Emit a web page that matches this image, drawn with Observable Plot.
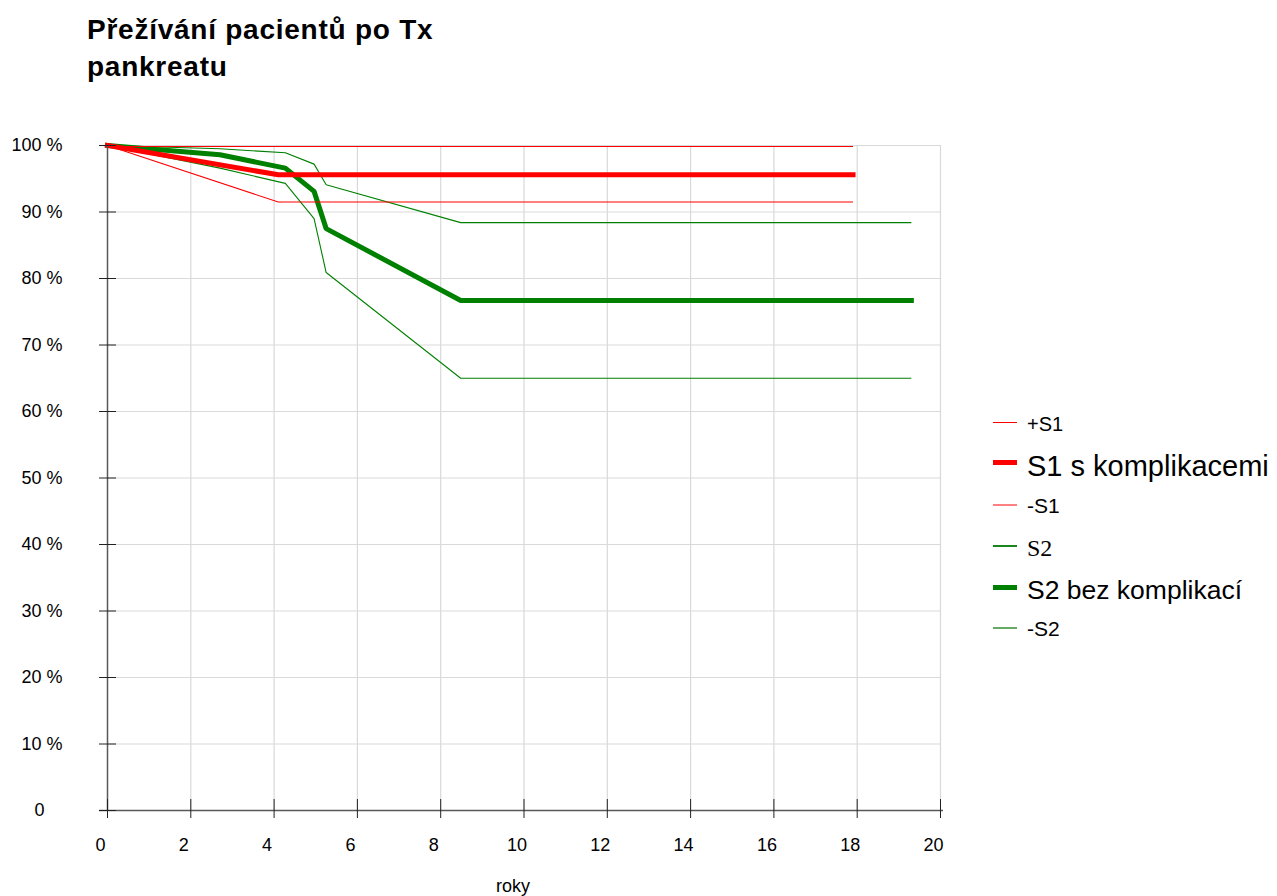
<!DOCTYPE html>
<html>
<head>
<meta charset="utf-8">
<script src="https://cdn.jsdelivr.net/npm/d3@7"></script>
<script src="https://cdn.jsdelivr.net/npm/@observablehq/plot@0.6"></script>
<style>
  body { margin: 0; background: #fff; font-family: "Liberation Sans", Arial, sans-serif; color: #000; }
  #page { position: relative; width: 1277px; height: 896px; overflow: hidden; background: #fff; }
  #title { position: absolute; left: 87px; top: 11px; font-size: 28px; letter-spacing: 0.75px; font-weight: bold; line-height: 37px; white-space: nowrap; }
  #chart { position: absolute; left: 0; top: 100px; }
  #xlabel { position: absolute; left: 496px; top: 877px; font-size: 18px; line-height: 18px; }
  .leg-line { position: absolute; }
  .leg-text { position: absolute; white-space: nowrap; }
</style>
</head>
<body>
<div id="page">
  <div id="title">Přežívání pacientů po Tx<br>pankreatu</div>
  <div id="chart"></div>
  <div id="xlabel">roky</div>
</div>
<script>
// Patient survival after pancreas transplant (years vs. %), with confidence bounds.
const s1Years = [0, 4.1, 17.9];
const s1Upper = [100, 100, 100];
const s1Mid = [100, 95.6, 95.6];
const s1Lower = [100, 91.5, 91.5];

const s2Years = [0, 2.7, 4.27, 4.96, 5.25, 8.48, 19.3];
const s2Upper = [100, 99.5, 98.9, 97.2, 94.1, 88.4, 88.4];
const s2Mid = [100, 98.6, 96.6, 93.1, 87.5, 76.7, 76.7];
const s2Lower = [100, 96.6, 94.3, 89.0, 80.9, 65.0, 65.0];

const xTicks = [0, 2, 4, 6, 8, 10, 12, 14, 16, 18, 20];
const yTicks = [0, 10, 20, 30, 40, 50, 60, 70, 80, 90, 100];

const seriesNames = ["+S1", "S1 s komplikacemi", "-S1", "S2", "S2 bez komplikací", "-S2"];

const RED = "#ff0000";
const GREEN = "#008000";

const rows = (years, values) => years.map((t, i) => ({t, v: values[i]}));

const thin = (years, values, stroke, extra = {}) =>
  Plot.line(rows(years, values), {x: "t", y: "v", stroke, strokeWidth: 1.1, strokeLinejoin: "miter", strokeLinecap: "butt", ...extra});
const thick = (years, values, stroke) =>
  Plot.line(rows(years, values), {x: "t", y: "v", stroke, strokeWidth: 5, strokeLinejoin: "miter", strokeLinecap: "square"});

const chart = Plot.plot({
  width: 960,
  height: 760,
  marginLeft: 107,
  marginRight: 20,
  marginTop: 45,
  marginBottom: 50,
  x: {domain: [0, 20]},
  y: {domain: [0, 100]},
  style: {fontFamily: '"Liberation Sans", Arial, sans-serif', fontSize: "18px", color: "#000", background: "transparent", overflow: "visible"},
  marks: [
    // grid
    Plot.ruleX(xTicks.filter(d => d > 0), {stroke: "#d9d9d9", strokeWidth: 1.2}),
    Plot.ruleY(yTicks.filter(d => d > 0), {stroke: "#d9d9d9", strokeWidth: 1.2}),
    // S2 group (drawn under S1)
    thin(s2Years, s2Upper, GREEN),
    thin(s2Years, s2Lower, GREEN),
    thick(s2Years, s2Mid, GREEN),
    // S1 group; the upper bound sits just below the 100 % grid line
    thin(s1Years, s1Upper, RED, {dy: 1}),
    thin(s1Years, s1Lower, RED),
    thick(s1Years, s1Mid, RED),
    // axis lines
    Plot.ruleY([0], {stroke: "#595959", strokeWidth: 1.5, insetLeft: -8, insetRight: -3}),
    Plot.ruleX([0], {stroke: "#595959", strokeWidth: 1.5}),
    // crossing tick marks
    Plot.axisX({ticks: xTicks, tickSize: 19, dy: -11, tickFormat: () => "", label: null, stroke: "#222"}),
    Plot.axisY({ticks: yTicks, tickSize: 17, dx: 9, tickFormat: () => "", label: null, stroke: "#222"}),
    // tick labels
    Plot.axisX({ticks: xTicks, tickSize: 0, tickPadding: 28, dx: -7, label: null, tickFormat: d => String(d)}),
    Plot.axisY({ticks: yTicks, tickSize: 0, tickPadding: 45, label: null,
      tickFormat: d => d === 0 ? "0\u2002\u2002" : d + " %"})
  ]
});
document.getElementById("chart").appendChild(chart);

// Legend
const legendStyle = [
  {color: RED, weight: 1.5, size: 20, serif: false},
  {color: RED, weight: 5.5, size: 29, serif: false},
  {color: "#ff8080", weight: 2, size: 21, serif: false},
  {color: "#1a851a", weight: 1.5, size: 24, serif: true},
  {color: GREEN, weight: 5.5, size: 26.5, serif: false},
  {color: "#66aa66", weight: 2, size: 21, serif: false}
];
const legendLayout = [
  {lineY: 422.3, baseline: 431},
  {lineY: 462.3, baseline: 477},
  {lineY: 505, baseline: 512.7},
  {lineY: 546, baseline: 556},
  {lineY: 587.7, baseline: 599},
  {lineY: 628.3, baseline: 635.7}
];
const page = document.getElementById("page");
seriesNames.forEach((name, i) => {
  const st = legendStyle[i], lay = legendLayout[i];
  const line = document.createElement("div");
  line.className = "leg-line";
  line.style.left = "993px";
  line.style.width = "24px";
  line.style.height = st.weight + "px";
  line.style.top = (lay.lineY - st.weight / 2) + "px";
  line.style.background = st.color;
  page.appendChild(line);
  const text = document.createElement("div");
  text.className = "leg-text";
  text.textContent = name;
  text.style.left = "1027px";
  text.style.fontSize = st.size + "px";
  text.style.lineHeight = st.size + "px";
  text.style.fontFamily = st.serif ? '"Liberation Serif", "Times New Roman", serif' : '"Liberation Sans", Arial, sans-serif';
  const k = st.serif ? 0.8375 : 0.8465;
  text.style.top = (lay.baseline - k * st.size) + "px";
  page.appendChild(text);
});
</script>
</body>
</html>
